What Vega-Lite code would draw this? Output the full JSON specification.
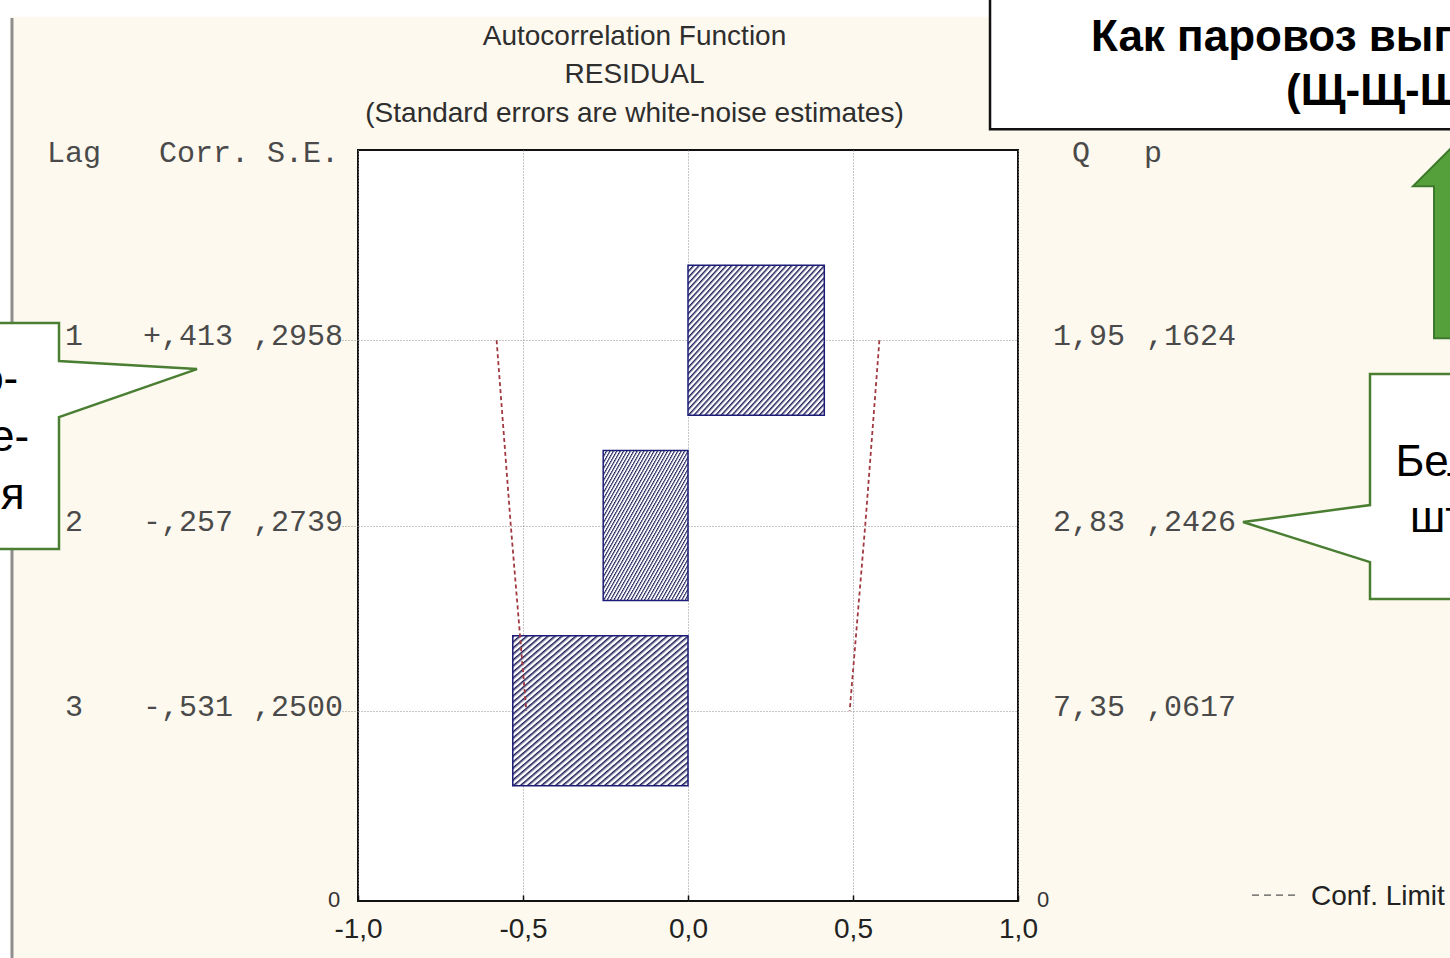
{
  "$schema": "https://vega.github.io/schema/vega-lite/v6.json",
  "width": 660,
  "height": 751,
  "autosize": {"type": "none"},
  "padding": {"left": 358, "top": 150, "right": 432, "bottom": 57},
  "background": "#fdf9ee",
  "config": {
    "locale": {"number": {"decimal": ",", "thousands": ".", "grouping": [3], "currency": ["", ""], "minus": "-"}},
    "view": {"fill": "#ffffff", "stroke": "#111111", "strokeWidth": 2},
    "font": "Liberation Sans"
  },
  "data": {
    "values": [
      {"lag": 1, "corr": 0.413, "se": 0.2958, "q": 1.95, "p": 0.1624, "lo": -0.58, "hi": 0.58},
      {"lag": 2, "corr": -0.257, "se": 0.2739, "q": 2.83, "p": 0.2426, "lo": -0.537, "hi": 0.537},
      {"lag": 3, "corr": -0.531, "se": 0.25, "q": 7.35, "p": 0.0617, "lo": -0.49, "hi": 0.49}
    ]
  },
  "layer": [
    {
      "data": {"values": [{}]},
      "layer": [
        {
          "mark": {"type": "rect", "fill": "#ffffff"},
          "encoding": {
            "x": {"datum": -3, "type": "quantitative"},
            "x2": {"datum": 4},
            "y": {"datum": -1, "type": "quantitative"},
            "y2": {"datum": -0.7457}
          }
        },
        {
          "mark": {"type": "rect", "fill": "#ffffff"},
          "encoding": {
            "x": {"datum": -3, "type": "quantitative"},
            "x2": {"datum": -2.0545},
            "y": {"datum": -1, "type": "quantitative"},
            "y2": {"datum": 5}
          }
        },
        {
          "mark": {"type": "rule", "stroke": "#8f8f8f", "strokeWidth": 3},
          "encoding": {
            "x": {"datum": -2.0485, "type": "quantitative"},
            "y": {"datum": -0.74, "type": "quantitative"},
            "y2": {"datum": 5}
          }
        }
      ]
    },
    {
      "mark": {
        "type": "bar",
        "orient": "horizontal",
        "size": 150,
        "stroke": "#1c1c78",
        "strokeWidth": 1.5,
        "fill": {
          "gradient": "linear", "x1": 0, "y1": 0, "x2": 1, "y2": 1,
          "stops": [
            {"offset": 0, "color": "#1e1e58"}, {"offset": 0.011, "color": "#ffffff"}, {"offset": 0.016, "color": "#ffffff"},
            {"offset": 0.02, "color": "#1e1e58"}, {"offset": 0.031, "color": "#ffffff"}, {"offset": 0.036, "color": "#ffffff"},
            {"offset": 0.04, "color": "#1e1e58"}, {"offset": 0.051, "color": "#ffffff"}, {"offset": 0.056, "color": "#ffffff"},
            {"offset": 0.06, "color": "#1e1e58"}, {"offset": 0.071, "color": "#ffffff"}, {"offset": 0.076, "color": "#ffffff"},
            {"offset": 0.08, "color": "#1e1e58"}, {"offset": 0.091, "color": "#ffffff"}, {"offset": 0.096, "color": "#ffffff"},
            {"offset": 0.1, "color": "#1e1e58"}, {"offset": 0.111, "color": "#ffffff"}, {"offset": 0.116, "color": "#ffffff"},
            {"offset": 0.12, "color": "#1e1e58"}, {"offset": 0.131, "color": "#ffffff"}, {"offset": 0.136, "color": "#ffffff"},
            {"offset": 0.14, "color": "#1e1e58"}, {"offset": 0.151, "color": "#ffffff"}, {"offset": 0.156, "color": "#ffffff"},
            {"offset": 0.16, "color": "#1e1e58"}, {"offset": 0.171, "color": "#ffffff"}, {"offset": 0.176, "color": "#ffffff"},
            {"offset": 0.18, "color": "#1e1e58"}, {"offset": 0.191, "color": "#ffffff"}, {"offset": 0.196, "color": "#ffffff"},
            {"offset": 0.2, "color": "#1e1e58"}, {"offset": 0.211, "color": "#ffffff"}, {"offset": 0.216, "color": "#ffffff"},
            {"offset": 0.22, "color": "#1e1e58"}, {"offset": 0.231, "color": "#ffffff"}, {"offset": 0.236, "color": "#ffffff"},
            {"offset": 0.24, "color": "#1e1e58"}, {"offset": 0.251, "color": "#ffffff"}, {"offset": 0.256, "color": "#ffffff"},
            {"offset": 0.26, "color": "#1e1e58"}, {"offset": 0.271, "color": "#ffffff"}, {"offset": 0.276, "color": "#ffffff"},
            {"offset": 0.28, "color": "#1e1e58"}, {"offset": 0.291, "color": "#ffffff"}, {"offset": 0.296, "color": "#ffffff"},
            {"offset": 0.3, "color": "#1e1e58"}, {"offset": 0.311, "color": "#ffffff"}, {"offset": 0.316, "color": "#ffffff"},
            {"offset": 0.32, "color": "#1e1e58"}, {"offset": 0.331, "color": "#ffffff"}, {"offset": 0.336, "color": "#ffffff"},
            {"offset": 0.34, "color": "#1e1e58"}, {"offset": 0.351, "color": "#ffffff"}, {"offset": 0.356, "color": "#ffffff"},
            {"offset": 0.36, "color": "#1e1e58"}, {"offset": 0.371, "color": "#ffffff"}, {"offset": 0.376, "color": "#ffffff"},
            {"offset": 0.38, "color": "#1e1e58"}, {"offset": 0.391, "color": "#ffffff"}, {"offset": 0.396, "color": "#ffffff"},
            {"offset": 0.4, "color": "#1e1e58"}, {"offset": 0.411, "color": "#ffffff"}, {"offset": 0.416, "color": "#ffffff"},
            {"offset": 0.42, "color": "#1e1e58"}, {"offset": 0.431, "color": "#ffffff"}, {"offset": 0.436, "color": "#ffffff"},
            {"offset": 0.44, "color": "#1e1e58"}, {"offset": 0.451, "color": "#ffffff"}, {"offset": 0.456, "color": "#ffffff"},
            {"offset": 0.46, "color": "#1e1e58"}, {"offset": 0.471, "color": "#ffffff"}, {"offset": 0.476, "color": "#ffffff"},
            {"offset": 0.48, "color": "#1e1e58"}, {"offset": 0.491, "color": "#ffffff"}, {"offset": 0.496, "color": "#ffffff"},
            {"offset": 0.5, "color": "#1e1e58"}, {"offset": 0.511, "color": "#ffffff"}, {"offset": 0.516, "color": "#ffffff"},
            {"offset": 0.52, "color": "#1e1e58"}, {"offset": 0.531, "color": "#ffffff"}, {"offset": 0.536, "color": "#ffffff"},
            {"offset": 0.54, "color": "#1e1e58"}, {"offset": 0.551, "color": "#ffffff"}, {"offset": 0.556, "color": "#ffffff"},
            {"offset": 0.56, "color": "#1e1e58"}, {"offset": 0.571, "color": "#ffffff"}, {"offset": 0.576, "color": "#ffffff"},
            {"offset": 0.58, "color": "#1e1e58"}, {"offset": 0.591, "color": "#ffffff"}, {"offset": 0.596, "color": "#ffffff"},
            {"offset": 0.6, "color": "#1e1e58"}, {"offset": 0.611, "color": "#ffffff"}, {"offset": 0.616, "color": "#ffffff"},
            {"offset": 0.62, "color": "#1e1e58"}, {"offset": 0.631, "color": "#ffffff"}, {"offset": 0.636, "color": "#ffffff"},
            {"offset": 0.64, "color": "#1e1e58"}, {"offset": 0.651, "color": "#ffffff"}, {"offset": 0.656, "color": "#ffffff"},
            {"offset": 0.66, "color": "#1e1e58"}, {"offset": 0.671, "color": "#ffffff"}, {"offset": 0.676, "color": "#ffffff"},
            {"offset": 0.68, "color": "#1e1e58"}, {"offset": 0.691, "color": "#ffffff"}, {"offset": 0.696, "color": "#ffffff"},
            {"offset": 0.7, "color": "#1e1e58"}, {"offset": 0.711, "color": "#ffffff"}, {"offset": 0.716, "color": "#ffffff"},
            {"offset": 0.72, "color": "#1e1e58"}, {"offset": 0.731, "color": "#ffffff"}, {"offset": 0.736, "color": "#ffffff"},
            {"offset": 0.74, "color": "#1e1e58"}, {"offset": 0.751, "color": "#ffffff"}, {"offset": 0.756, "color": "#ffffff"},
            {"offset": 0.76, "color": "#1e1e58"}, {"offset": 0.771, "color": "#ffffff"}, {"offset": 0.776, "color": "#ffffff"},
            {"offset": 0.78, "color": "#1e1e58"}, {"offset": 0.791, "color": "#ffffff"}, {"offset": 0.796, "color": "#ffffff"},
            {"offset": 0.8, "color": "#1e1e58"}, {"offset": 0.811, "color": "#ffffff"}, {"offset": 0.816, "color": "#ffffff"},
            {"offset": 0.82, "color": "#1e1e58"}, {"offset": 0.831, "color": "#ffffff"}, {"offset": 0.836, "color": "#ffffff"},
            {"offset": 0.84, "color": "#1e1e58"}, {"offset": 0.851, "color": "#ffffff"}, {"offset": 0.856, "color": "#ffffff"},
            {"offset": 0.86, "color": "#1e1e58"}, {"offset": 0.871, "color": "#ffffff"}, {"offset": 0.876, "color": "#ffffff"},
            {"offset": 0.88, "color": "#1e1e58"}, {"offset": 0.891, "color": "#ffffff"}, {"offset": 0.896, "color": "#ffffff"},
            {"offset": 0.9, "color": "#1e1e58"}, {"offset": 0.911, "color": "#ffffff"}, {"offset": 0.916, "color": "#ffffff"},
            {"offset": 0.92, "color": "#1e1e58"}, {"offset": 0.931, "color": "#ffffff"}, {"offset": 0.936, "color": "#ffffff"},
            {"offset": 0.94, "color": "#1e1e58"}, {"offset": 0.951, "color": "#ffffff"}, {"offset": 0.956, "color": "#ffffff"},
            {"offset": 0.96, "color": "#1e1e58"}, {"offset": 0.971, "color": "#ffffff"}, {"offset": 0.976, "color": "#ffffff"},
            {"offset": 0.98, "color": "#1e1e58"}, {"offset": 0.991, "color": "#ffffff"}, {"offset": 0.996, "color": "#ffffff"}
          ]
        }
      },
      "encoding": {
        "x": {
          "field": "corr", "type": "quantitative",
          "scale": {"domain": [-1, 1], "nice": false, "zero": false},
          "axis": {
            "orient": "bottom", "values": [-1, -0.5, 0, 0.5, 1], "format": ".1f", "title": null,
            "domain": false, "grid": true, "gridColor": "#8c8c8c", "gridDash": [1, 2], "gridWidth": 1,
            "ticks": true, "tickSize": -6, "tickColor": "#111111", "tickWidth": 1.5,
            "labelFont": "Liberation Sans", "labelFontSize": 28, "labelColor": "#222222",
            "labelPadding": 20, "labelFlush": false, "labelBound": false, "labelOverlap": false
          }
        },
        "x2": {"datum": 0},
        "y": {
          "field": "lag", "type": "quantitative",
          "scale": {"domain": [0, 4], "nice": false, "zero": false, "reverse": true},
          "axis": {
            "orient": "left", "values": [1, 2, 3], "title": null, "domain": false,
            "grid": true, "gridColor": "#8c8c8c", "gridDash": [1, 2], "gridWidth": 1,
            "labels": false, "ticks": true, "tickSize": 16, "tickDash": [1, 2], "tickColor": "#8c8c8c"
          }
        }
      }
    },
    {
      "mark": {"type": "line", "stroke": "#a03a40", "strokeWidth": 1.8, "strokeDash": [4, 3]},
      "encoding": {
        "x": {"field": "lo", "type": "quantitative"},
        "y": {"field": "lag", "type": "quantitative"},
        "order": {"field": "lag"}
      }
    },
    {
      "mark": {"type": "line", "stroke": "#a03a40", "strokeWidth": 1.8, "strokeDash": [4, 3]},
      "encoding": {
        "x": {"field": "hi", "type": "quantitative"},
        "y": {"field": "lag", "type": "quantitative"},
        "order": {"field": "lag"}
      }
    },
    {
      "mark": {"type": "text", "font": "Liberation Mono", "fontSize": 30, "color": "#4a4a4a", "align": "center", "baseline": "middle", "dy": -4},
      "encoding": {
        "x": {"datum": -1.8606, "type": "quantitative"},
        "y": {"field": "lag", "type": "quantitative"},
        "text": {"field": "lag", "type": "quantitative"}
      }
    },
    {
      "mark": {"type": "text", "font": "Liberation Mono", "fontSize": 30, "color": "#4a4a4a", "align": "right", "baseline": "middle", "dy": -4,
               "text": {"expr": "(datum.corr < 0 ? '-' : '+') + ',' + substring(format(abs(datum.corr), '.3f'), 2)"}},
      "encoding": {
        "x": {"datum": -1.3788, "type": "quantitative"},
        "y": {"field": "lag", "type": "quantitative"}
      }
    },
    {
      "mark": {"type": "text", "font": "Liberation Mono", "fontSize": 30, "color": "#4a4a4a", "align": "right", "baseline": "middle", "dy": -4,
               "text": {"expr": "',' + substring(format(datum.se, '.4f'), 2)"}},
      "encoding": {
        "x": {"datum": -1.0455, "type": "quantitative"},
        "y": {"field": "lag", "type": "quantitative"}
      }
    },
    {
      "mark": {"type": "text", "font": "Liberation Mono", "fontSize": 30, "color": "#4a4a4a", "align": "right", "baseline": "middle", "dy": -4,
               "text": {"expr": "replace(format(datum.q, '.2f'), '.', ',')"}},
      "encoding": {
        "x": {"datum": 1.3242, "type": "quantitative"},
        "y": {"field": "lag", "type": "quantitative"}
      }
    },
    {
      "mark": {"type": "text", "font": "Liberation Mono", "fontSize": 30, "color": "#4a4a4a", "align": "right", "baseline": "middle", "dy": -4,
               "text": {"expr": "',' + substring(format(datum.p, '.4f'), 2)"}},
      "encoding": {
        "x": {"datum": 1.6606, "type": "quantitative"},
        "y": {"field": "lag", "type": "quantitative"}
      }
    },
    {
      "data": {"values": [{}]},
      "layer": [
        {
          "mark": {"type": "text", "text": "Lag", "font": "Liberation Mono", "fontSize": 30, "color": "#4a4a4a", "align": "center", "baseline": "middle", "dy": -5},
          "encoding": {"x": {"datum": -1.8606, "type": "quantitative"}, "y": {"datum": 0.016, "type": "quantitative"}}
        },
        {
          "mark": {"type": "text", "text": "Corr. S.E.", "font": "Liberation Mono", "fontSize": 30, "color": "#4a4a4a", "align": "right", "baseline": "middle", "dy": -5},
          "encoding": {"x": {"datum": -1.0576, "type": "quantitative"}, "y": {"datum": 0.016, "type": "quantitative"}}
        },
        {
          "mark": {"type": "text", "text": "Q", "font": "Liberation Mono", "fontSize": 30, "color": "#4a4a4a", "align": "center", "baseline": "middle", "dy": -5},
          "encoding": {"x": {"datum": 1.1909, "type": "quantitative"}, "y": {"datum": 0.016, "type": "quantitative"}}
        },
        {
          "mark": {"type": "text", "text": "p", "font": "Liberation Mono", "fontSize": 30, "color": "#4a4a4a", "align": "center", "baseline": "middle", "dy": -5},
          "encoding": {"x": {"datum": 1.4091, "type": "quantitative"}, "y": {"datum": 0.016, "type": "quantitative"}}
        },
        {
          "mark": {"type": "text", "text": "Autocorrelation Function", "fontSize": 28, "color": "#2e2e2e", "align": "center", "baseline": "middle", "dy": -5},
          "encoding": {"x": {"datum": -0.1621, "type": "quantitative"}, "y": {"datum": -0.6125, "type": "quantitative"}}
        },
        {
          "mark": {"type": "text", "text": "RESIDUAL", "fontSize": 28, "color": "#2e2e2e", "align": "center", "baseline": "middle", "dy": -5},
          "encoding": {"x": {"datum": -0.1621, "type": "quantitative"}, "y": {"datum": -0.4048, "type": "quantitative"}}
        },
        {
          "mark": {"type": "text", "text": "(Standard errors are white-noise estimates)", "fontSize": 28, "color": "#2e2e2e", "align": "center", "baseline": "middle", "dy": -4},
          "encoding": {"x": {"datum": -0.1621, "type": "quantitative"}, "y": {"datum": -0.1971, "type": "quantitative"}}
        },
        {
          "mark": {"type": "text", "text": "0", "fontSize": 22, "color": "#333333", "align": "center", "baseline": "middle", "dy": 2},
          "encoding": {"x": {"datum": -1.0727, "type": "quantitative"}, "y": {"datum": 4.0107, "type": "quantitative"}}
        },
        {
          "mark": {"type": "text", "text": "0", "fontSize": 22, "color": "#333333", "align": "center", "baseline": "middle", "dy": 2},
          "encoding": {"x": {"datum": 1.0758, "type": "quantitative"}, "y": {"datum": 4.0107, "type": "quantitative"}}
        },
        {
          "mark": {"type": "rule", "stroke": "#555555", "strokeWidth": 1.3, "strokeDash": [7, 5]},
          "encoding": {
            "x": {"datum": 1.7091, "type": "quantitative"},
            "x2": {"datum": 1.8424},
            "y": {"datum": 3.995, "type": "quantitative"}
          }
        },
        {
          "mark": {"type": "text", "text": "Conf. Limit", "fontSize": 28, "color": "#222222", "align": "left", "baseline": "middle", "dy": 2},
          "encoding": {"x": {"datum": 1.8879, "type": "quantitative"}, "y": {"datum": 3.995, "type": "quantitative"}}
        },
        {
          "mark": {"type": "rect", "fill": "#ffffff", "stroke": "#111111", "strokeWidth": 2.5},
          "encoding": {
            "x": {"datum": 0.9152, "type": "quantitative"},
            "x2": {"datum": 2.5},
            "y": {"datum": -1.0, "type": "quantitative"},
            "y2": {"datum": -0.1385}
          }
        },
        {
          "mark": {"type": "text", "text": "Как паровоз выпускает пар", "fontSize": 44, "fontWeight": "bold", "color": "#000000", "align": "left", "baseline": "alphabetic"},
          "encoding": {"x": {"datum": 1.2212, "type": "quantitative"}, "y": {"datum": -0.5593, "type": "quantitative"}}
        },
        {
          "mark": {"type": "text", "text": "(Щ-Щ-Щ)", "fontSize": 44, "fontWeight": "bold", "color": "#000000", "align": "left", "baseline": "alphabetic"},
          "encoding": {"x": {"datum": 1.8121, "type": "quantitative"}, "y": {"datum": -0.2716, "type": "quantitative"}}
        },
        {
          "mark": {"type": "point", "shape": "M -138 -46 L -138 -8 L 0 0 L -138 48 L -138 180 L -400 180 L -400 -46 Z", "size": 4, "filled": true, "fill": "#ffffff", "stroke": "#4a7f33", "strokeWidth": 2.5, "opacity": 1},
          "encoding": {"x": {"datum": -1.4879, "type": "quantitative"}, "y": {"datum": 1.1558, "type": "quantitative"}}
        },
        {
          "mark": {"type": "text", "text": "Авто-", "fontSize": 44, "color": "#000000", "align": "center", "baseline": "alphabetic"},
          "encoding": {"x": {"datum": -2.197, "type": "quantitative"}, "y": {"datum": 1.2836, "type": "quantitative"}}
        },
        {
          "mark": {"type": "text", "text": "корре-", "fontSize": 44, "color": "#000000", "align": "center", "baseline": "alphabetic"},
          "encoding": {"x": {"datum": -2.197, "type": "quantitative"}, "y": {"datum": 1.5979, "type": "quantitative"}}
        },
        {
          "mark": {"type": "text", "text": "ляция", "fontSize": 44, "color": "#000000", "align": "center", "baseline": "alphabetic"},
          "encoding": {"x": {"datum": -2.197, "type": "quantitative"}, "y": {"datum": 1.9121, "type": "quantitative"}}
        },
        {
          "mark": {"type": "point", "shape": "M 127 -148 L 127 -17 L 0 0 L 127 40 L 127 77 L 400 77 L 400 -148 Z", "size": 4, "filled": true, "fill": "#ffffff", "stroke": "#4a7f33", "strokeWidth": 2.5, "opacity": 1},
          "encoding": {"x": {"datum": 1.6818, "type": "quantitative"}, "y": {"datum": 1.9814, "type": "quantitative"}}
        },
        {
          "mark": {"type": "text", "text": "Белый", "fontSize": 44, "color": "#000000", "align": "left", "baseline": "alphabetic"},
          "encoding": {"x": {"datum": 2.1439, "type": "quantitative"}, "y": {"datum": 1.731, "type": "quantitative"}}
        },
        {
          "mark": {"type": "text", "text": "штиль", "fontSize": 44, "color": "#000000", "align": "left", "baseline": "alphabetic"},
          "encoding": {"x": {"datum": 2.1879, "type": "quantitative"}, "y": {"datum": 2.0346, "type": "quantitative"}}
        },
        {
          "mark": {"type": "point", "shape": "M 0 0 L 47 47 L 26 47 L 26 199 L -26 199 L -26 47 L -47 47 Z", "size": 4, "filled": true, "fill": "#56a03c", "stroke": "#3e7a2b", "strokeWidth": 2, "opacity": 1},
          "encoding": {"x": {"datum": 2.3394, "type": "quantitative"}, "y": {"datum": -0.0852, "type": "quantitative"}}
        }
      ]
    }
  ]
}
